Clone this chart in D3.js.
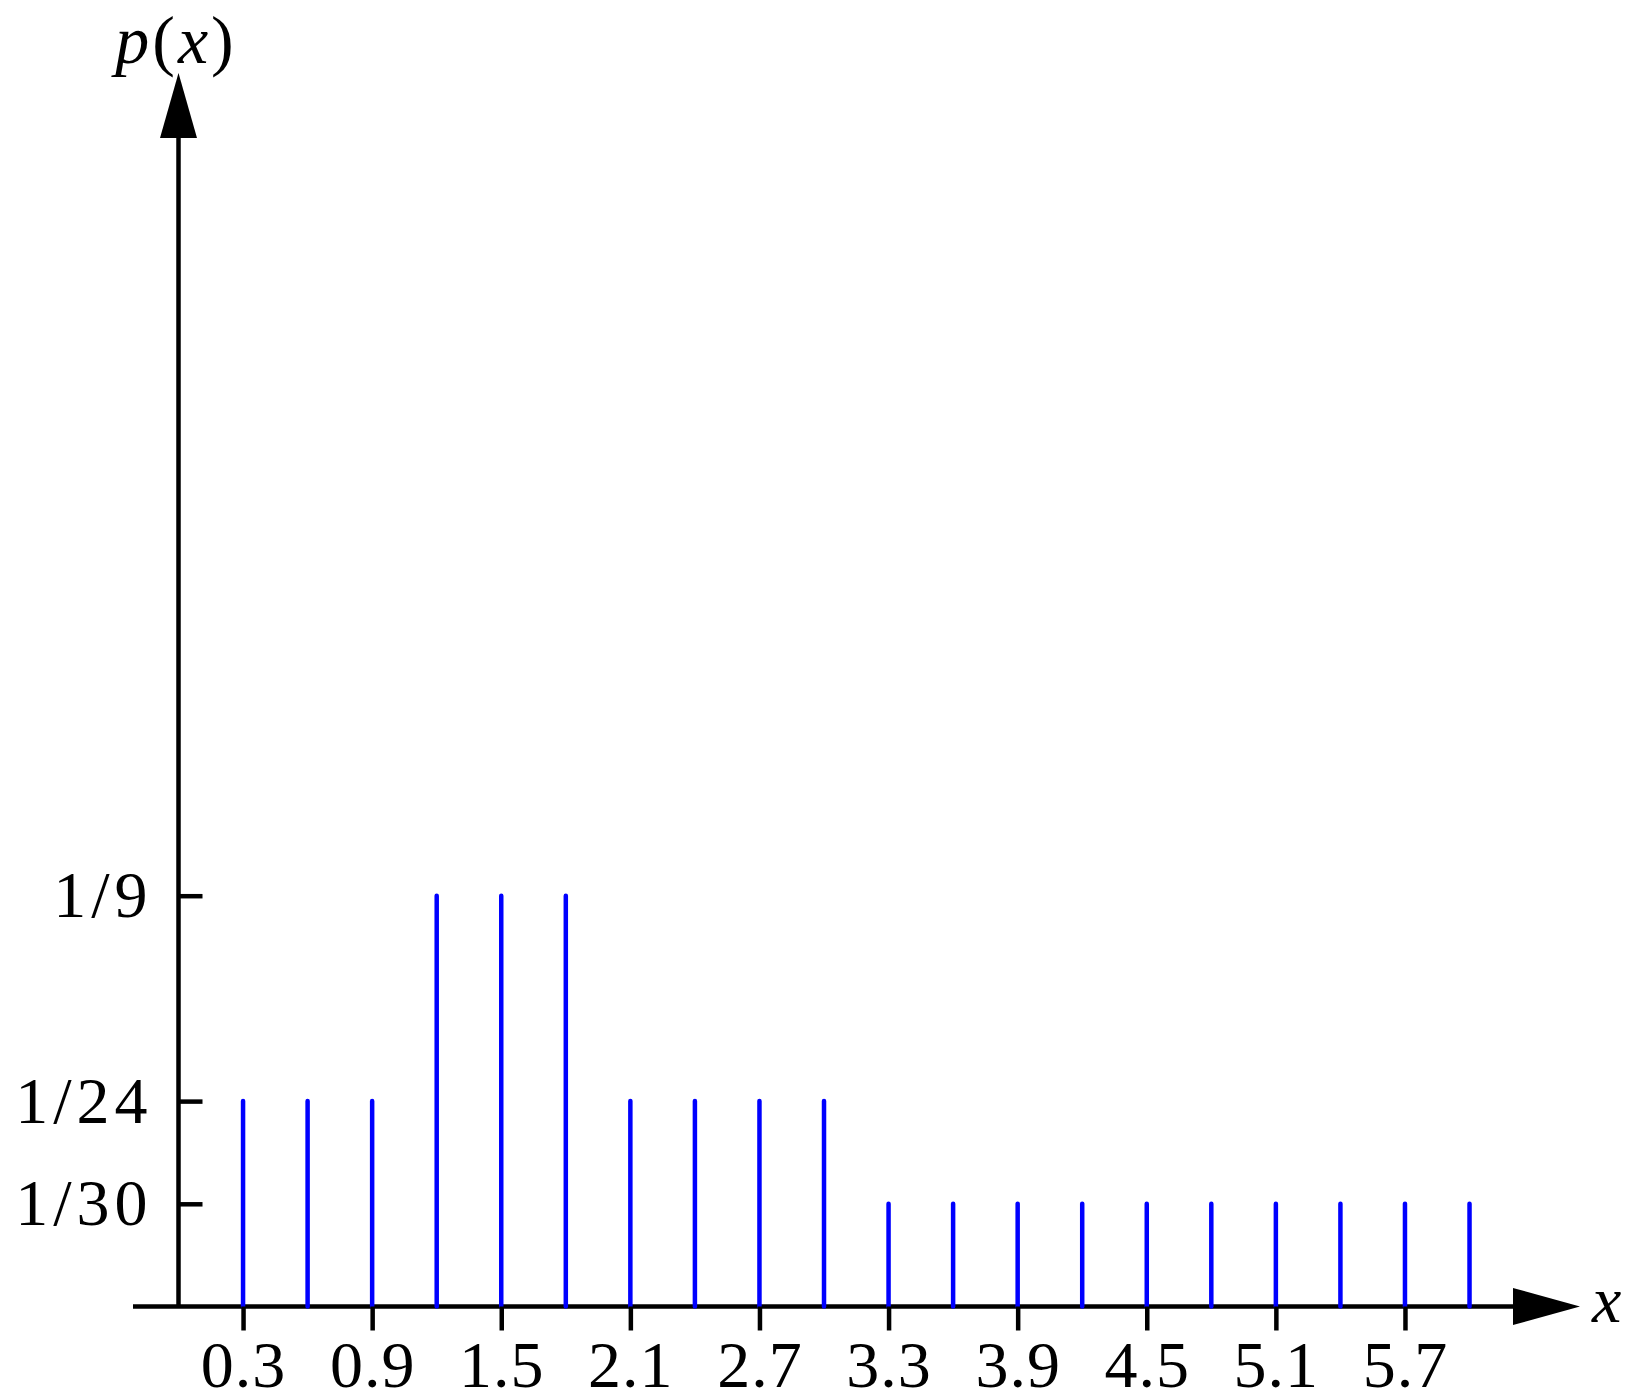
<!DOCTYPE html>
<html>
<head>
<meta charset="utf-8">
<script src="https://cdn.jsdelivr.net/npm/d3@7"></script>
<style>
  body { margin: 0; background: #fff; }
  text { font-family: "Liberation Serif", "DejaVu Serif", serif; fill: #000; }
</style>
</head>
<body>
<div class="svg-container"></div>
<script>
// data
var xValues = [0.3, 0.6, 0.9, 1.2, 1.5, 1.8, 2.1, 2.4, 2.7, 3.0,
               3.3, 3.6, 3.9, 4.2, 4.5, 4.8, 5.1, 5.4, 5.7, 6.0];
var probs = [1/24, 1/24, 1/24, 1/9, 1/9, 1/9, 1/24, 1/24, 1/24, 1/24,
             1/30, 1/30, 1/30, 1/30, 1/30, 1/30, 1/30, 1/30, 1/30, 1/30];
var xTicks = [0.3, 0.9, 1.5, 2.1, 2.7, 3.3, 3.9, 4.5, 5.1, 5.7];
var yTicks = [1/30, 1/24, 1/9];
var yTickLabels = ["1/30", "1/24", "1/9"];

var width = 1639;
var height = 1400;
var originX = 178.5;
var originY = 1306.5;
var fontSize = 66;
var lw = 4.5;

var svg = d3.select(".svg-container").append("svg")
    .attr("width", width)
    .attr("height", height);

// X
var x = d3.scaleLinear()
    .domain([0, 6])
    .range([originX, originX + 6 * 215.17]);

// Y (the drawing spaces the levels unevenly: 1/30, 1/24, 1/9 at 1, 2, 4 units)
var y = d3.scaleLinear()
    .domain([0, 1/30, 1/24, 1/9])
    .range([originY, originY - 102.7, originY - 205.4, originY - 410.8]);

// axis lines
svg.append("line")
    .attr("x1", 133).attr("x2", 1520)
    .attr("y1", originY).attr("y2", originY)
    .attr("stroke", "#000").attr("stroke-width", lw);

svg.append("line")
    .attr("x1", originX).attr("x2", originX)
    .attr("y1", originY).attr("y2", 130)
    .attr("stroke", "#000").attr("stroke-width", lw);

// arrow heads
svg.append("path")
    .attr("d", "M" + 1580 + "," + originY + "L1513," + (originY - 18.5) + "L1513," + (originY + 18.5) + "Z")
    .attr("fill", "#000");

svg.append("path")
    .attr("d", "M" + originX + ",73L" + (originX - 18.5) + ",138L" + (originX + 18.5) + ",138Z")
    .attr("fill", "#000");

// stems
svg.selectAll(".stem")
    .data(xValues)
    .enter()
    .append("line")
    .attr("class", "stem")
    .attr("x1", function(d) { return x(d); })
    .attr("x2", function(d) { return x(d); })
    .attr("y1", originY)
    .attr("y2", function(d, i) { return y(probs[i]); })
    .attr("stroke", "#0000ff")
    .attr("stroke-width", lw)
    .attr("stroke-linecap", "round");

// x ticks
var xAxis = svg.append("g")
    .attr("transform", "translate(0," + originY + ")")
    .call(d3.axisBottom(x)
        .tickValues(xTicks)
        .tickSize(24)
        .tickPadding(10)
        .tickFormat(d3.format(".1f")));
xAxis.select(".domain").remove();
xAxis.selectAll(".tick line").attr("stroke", "#000").attr("stroke-width", lw);
xAxis.selectAll("text")
    .attr("font-family", "Liberation Serif")
    .attr("font-size", fontSize)
    .style("letter-spacing", "1px");

// y ticks
var yAxis = svg.append("g")
    .attr("transform", "translate(" + originX + ",0)")
    .call(d3.axisLeft(y)
        .tickValues(yTicks)
        .tickSize(-24)
        .tickPadding(26)
        .tickFormat(function(d, i) { return yTickLabels[i]; }));
yAxis.select(".domain").remove();
yAxis.selectAll(".tick line").attr("stroke", "#000").attr("stroke-width", lw);
yAxis.selectAll("text")
    .attr("font-family", "Liberation Serif")
    .attr("font-size", fontSize)
    .style("letter-spacing", "5px");

// Y Axis Label
var yLabel = svg.append("text")
    .attr("x", 176)
    .attr("y", 63)
    .attr("font-size", 68)
    .style("letter-spacing", "3px")
    .style("text-anchor", "middle");
yLabel.append("tspan").attr("font-style", "italic").text("p");
yLabel.append("tspan").text("(");
yLabel.append("tspan").attr("font-style", "italic").text("x");
yLabel.append("tspan").text(")");

// X Axis Label
svg.append("text")
    .attr("x", 1592)
    .attr("y", 1322)
    .attr("font-size", fontSize)
    .attr("font-style", "italic")
    .text("x");
</script>
</body>
</html>
